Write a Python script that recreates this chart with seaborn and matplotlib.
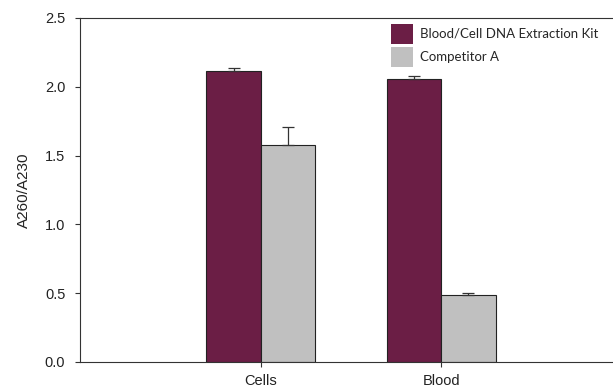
import matplotlib
matplotlib.use('Agg')
import matplotlib.pyplot as plt
import seaborn as sns
import pandas as pd

# values
samples = ['Cells', 'Blood']
kits = ['Blood/Cell DNA Extraction Kit', 'Competitor A']
kit_values = [2.115, 2.057]
kit_errors = [0.02, 0.02]
comp_values = [1.577, 0.487]
comp_errors = [0.13, 0.013]
colors = ['#6B1E45', '#C0C0C0']

df = pd.DataFrame({
    'sample': samples * 2,
    'kit': [kits[0]] * 2 + [kits[1]] * 2,
    'value': kit_values + comp_values,
})
errors = kit_errors + comp_errors

sns.set_style('ticks')
plt.rcParams['font.family'] = ['Liberation Sans', 'DejaVu Sans']

fig = plt.figure(figsize=(6.13, 3.87), dpi=100)
ax = fig.add_axes([0.1305, 0.0646, 0.8695, 0.889])

sns.barplot(data=df, x='sample', y='value', hue='kit', order=samples,
            hue_order=kits, palette=colors, width=0.6, errorbar=None,
            edgecolor='#222222', linewidth=0.8, saturation=1, ax=ax)

# one-sided error bars on top of each bar
bars = [p for p in ax.patches if p.get_height() > 0][:4]
for p, e in zip(bars, errors):
    xc = p.get_x() + p.get_width() / 2
    ax.errorbar(xc, p.get_height(), yerr=[[0], [e]], fmt='none',
                ecolor='#333333', elinewidth=0.9, capsize=4.5, capthick=0.9)

ax.set_xlim(-1, 1.95)
ax.set_ylim(0, 2.5)
ax.set_yticks([0, 0.5, 1.0, 1.5, 2.0, 2.5])
ax.set_yticklabels(['0.0', '0.5', '1.0', '1.5', '2.0', '2.5'])
ax.set_xlabel('')
ax.set_ylabel('A260/A230', fontsize=11, labelpad=10, color='#222222')
ax.tick_params(axis='both', labelsize=10.5, length=3.6, width=0.8, colors='#333333',
               labelcolor='#222222')
ax.tick_params(axis='y', pad=7)
ax.tick_params(axis='x', pad=5)
for s in ['left', 'top', 'bottom']:
    ax.spines[s].set_linewidth(0.8)
    ax.spines[s].set_color('#333333')
ax.spines['right'].set_visible(False)

leg = ax.legend(loc='upper left', bbox_to_anchor=(0.583, 0.983), frameon=False,
                prop={'family': ['Lato', 'DejaVu Sans'], 'size': 9.5},
                handlelength=1.67, handleheight=1.95, handletextpad=0.53,
                labelspacing=0.23, borderaxespad=0, borderpad=0)
for h in leg.legend_handles:
    h.set_edgecolor('none')

fig.savefig('out.png', dpi=100)
